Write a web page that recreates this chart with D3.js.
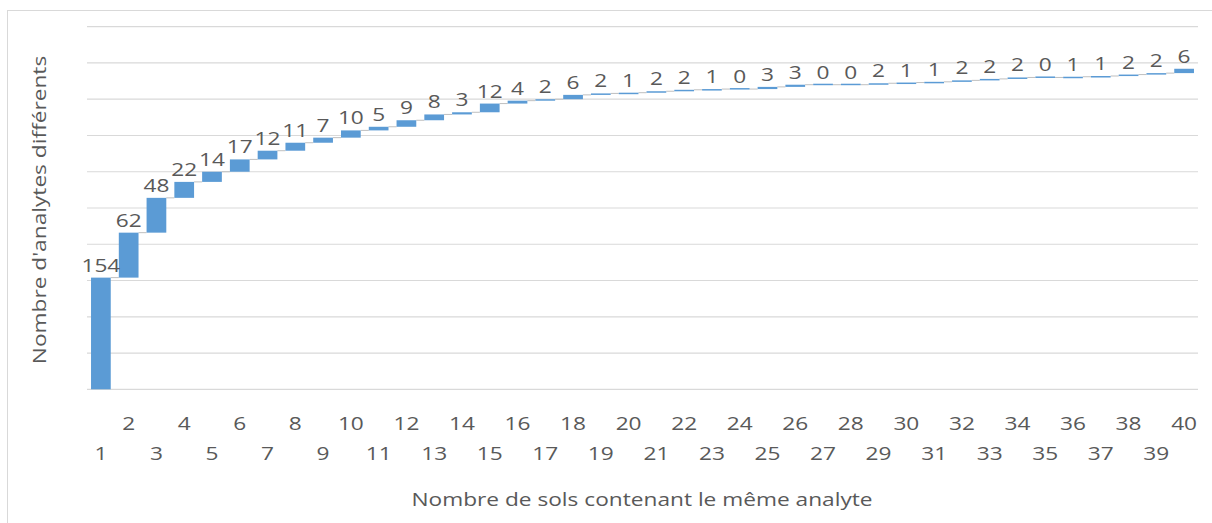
<!DOCTYPE html>
<html>
<head>
<meta charset="utf-8">
<script src="https://cdn.jsdelivr.net/npm/d3@7"></script>
<style>
  html, body { margin: 0; padding: 0; background: #fff; }
  svg { display: block; }
  text { font-family: "Open Sans", "Noto Sans", sans-serif; fill: #595959; }
</style>
</head>
<body>
<svg id="chart" width="1212" height="523"></svg>
<script>
// Number of soils sharing an analyte (x) and number of distinct analytes per step
const categories = d3.range(1, 41).map(String);
const increments = [154, 62, 48, 22, 14, 17, 12, 11, 7, 10,
                    5, 9, 8, 3, 12, 4, 2, 6, 2, 1,
                    2, 2, 1, 0, 3, 3, 0, 0, 2, 1,
                    1, 2, 2, 2, 0, 1, 1, 2, 2, 6];
const yTicks = [0, 50, 100, 150, 200, 250, 300, 350, 400, 450, 500];
const xTitle = "Nombre de sols contenant le même analyte";
const yTitle = "Nombre d'analytes différents";

// running totals: each step floats from the previous total to the new one
let acc = 0;
const steps = increments.map((v, i) => {
  const start = acc; acc += v;
  return { cat: categories[i], value: v, start, end: acc };
});

const svg = d3.select("#chart");
const W = 1212, H = 523;
const plot = { left: 87, right: 1198, top: 26.7, bottom: 389.3 };
const FS = 18;       // text size
const SX = 1.26;     // wide letterforms: glyphs widened along the reading direction

// outer chart frame
svg.append("rect")
  .attr("x", 7.5).attr("y", 10.5)
  .attr("width", W + 10).attr("height", H + 10)
  .attr("fill", "none").attr("stroke", "#d9d9d9").attr("stroke-width", 1);

const x = d3.scaleBand().domain(categories)
  .range([plot.left, plot.right]).paddingInner(0.29).paddingOuter(0.145);
const y = d3.scaleLinear().domain([0, 500]).range([plot.bottom, plot.top]);

// horizontal gridlines
svg.append("g").selectAll("line").data(yTicks).join("line")
  .attr("x1", plot.left).attr("x2", plot.right)
  .attr("y1", d => y(d)).attr("y2", d => y(d))
  .attr("stroke", "#d9d9d9").attr("stroke-width", 1.2);

// connectors between consecutive steps
svg.append("g").selectAll("line").data(steps.slice(0, -1)).join("line")
  .attr("x1", d => x(d.cat) + x.bandwidth())
  .attr("x2", (d, i) => x(steps[i + 1].cat))
  .attr("y1", d => y(d.end)).attr("y2", d => y(d.end))
  .attr("stroke", "#bfbfbf").attr("stroke-width", 1);

// floating bars
svg.append("g").selectAll("rect").data(steps).join("rect")
  .attr("x", d => x(d.cat))
  .attr("width", x.bandwidth())
  .attr("y", d => d.value > 0 ? y(d.end) : y(d.end) - 1)
  .attr("height", d => Math.max(1.5, y(d.start) - y(d.end)))
  .attr("fill", "#5b9bd5");

// widened text helper
function placeText(sel, fx, fy) {
  return sel.attr("transform", (d, i) => `translate(${fx(d, i)},${fy(d, i)}) scale(${SX},1)`)
    .attr("text-anchor", "middle")
    .attr("font-size", FS);
}

// value labels above each bar
placeText(svg.append("g").selectAll("text").data(steps).join("text"),
  d => x(d.cat) + x.bandwidth() / 2, d => y(d.end) - 6)
  .text(d => d.value);

// category axis, labels staggered on two rows
placeText(svg.append("g").selectAll("text").data(categories).join("text"),
  d => x(d) + x.bandwidth() / 2, (d, i) => i % 2 === 1 ? 429.5 : 459.5)
  .text(d => d);

// axis titles
svg.append("text")
  .attr("transform", `translate(642,506) scale(${SX},1)`)
  .attr("text-anchor", "middle").attr("font-size", FS)
  .text(xTitle);

svg.append("text")
  .attr("transform", `translate(46,210) rotate(-90) scale(${SX},1)`)
  .attr("text-anchor", "middle").attr("font-size", FS)
  .text(yTitle);
</script>
</body>
</html>
